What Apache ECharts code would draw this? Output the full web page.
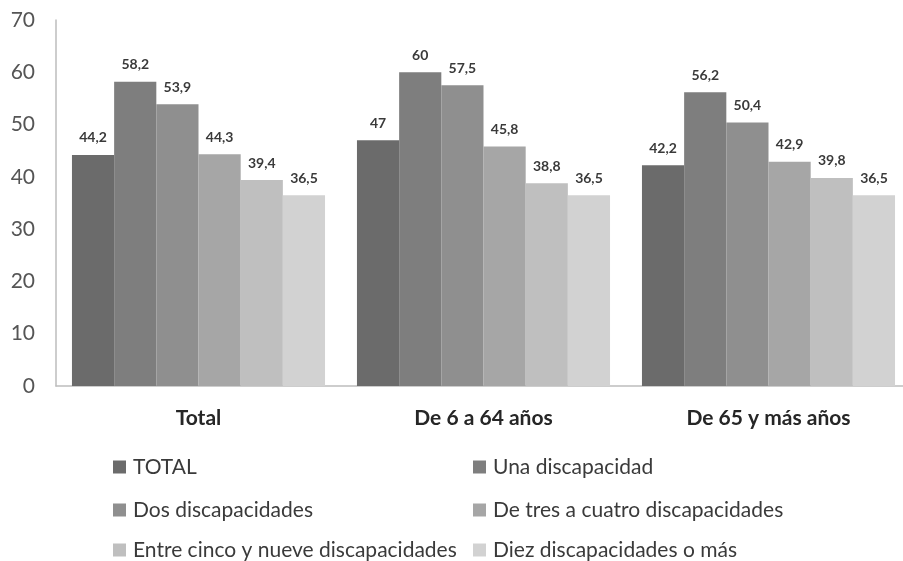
<!DOCTYPE html>
<html>
<head>
<meta charset="utf-8">
<script src="https://cdn.jsdelivr.net/npm/echarts@6/dist/echarts.min.js"></script>
<style>
  html, body { margin: 0; padding: 0; background: #ffffff; }
  #chart { width: 903px; height: 561px; }
</style>
</head>
<body>
<div id="chart"></div>
<script>
// Age groups along the x axis
const categories = ['Total', 'De 6 a 64 años', 'De 65 y más años'];

// Series: number of disabilities
const seriesNames = [
  'TOTAL',
  'Una discapacidad',
  'Dos discapacidades',
  'De tres a cuatro discapacidades',
  'Entre cinco y nueve discapacidades',
  'Diez discapacidades o más'
];
const totalValues = [44.2, 47, 42.2];
const unaValues = [58.2, 60, 56.2];
const dosValues = [53.9, 57.5, 50.4];
const tresCuatroValues = [44.3, 45.8, 42.9];
const cincoNueveValues = [39.4, 38.8, 39.8];
const diezValues = [36.5, 36.5, 36.5];

// Y axis ticks
const yTicks = [0, 10, 20, 30, 40, 50, 60, 70];

const seriesValues = [totalValues, unaValues, dosValues, tresCuatroValues, cincoNueveValues, diezValues];
const colors = ['#6b6b6b', '#7e7e7e', '#8f8f8f', '#a6a6a6', '#bfbfbf', '#d2d2d2'];

const font = 'Lato, "Noto Sans", sans-serif';

// Legend laid out as a two-column grid: one legend block per entry
const legendCols = [113, 473];
const legendRows = [456, 499, 539];
const legends = seriesNames.map((name, i) => ({
  data: [name],
  left: legendCols[i % 2],
  top: legendRows[Math.floor(i / 2)],
  padding: 0,
  itemWidth: 13, itemHeight: 13,
  icon: 'rect',
  textStyle: { fontFamily: font, fontSize: 21, lineHeight: 22, color: '#3a3a3a', padding: [0, 0, 0, 2] }
}));

const chart = echarts.init(document.getElementById('chart'), null, { renderer: 'canvas' });

chart.setOption({
  animation: false,
  backgroundColor: '#ffffff',
  color: colors,
  // plot area runs slightly past the right edge of the canvas
  grid: { left: 56, width: 855, top: 20, bottom: 175, containLabel: false, outerBoundsMode: 'none' },
  legend: legends,
  xAxis: {
    type: 'category',
    data: categories,
    axisLine: { show: true, lineStyle: { color: '#bdbdbd', width: 1.5 } },
    axisTick: { show: false },
    axisLabel: {
      margin: 22,
      fontFamily: font,
      fontWeight: 'bold',
      fontSize: 21,
      color: '#262626'
    }
  },
  yAxis: {
    type: 'value',
    min: yTicks[0],
    max: yTicks[yTicks.length - 1],
    interval: 10,
    axisLine: { show: true, lineStyle: { color: '#bdbdbd', width: 1.5 } },
    axisTick: { show: false },
    splitLine: { show: false },
    axisLabel: {
      margin: 21,
      fontFamily: font,
      fontSize: 21,
      color: '#555'
    }
  },
  series: seriesNames.map((name, i) => ({
    name: name,
    type: 'bar',
    data: seriesValues[i],
    barGap: '0%',
    barCategoryGap: '11.2%',
    itemStyle: { color: colors[i] },
    label: {
      show: true,
      position: 'top',
      distance: 10,
      fontFamily: font,
      fontWeight: 'bold',
      fontSize: 14,
      color: '#3a3a3a',
      formatter: p => String(p.value).replace('.', ',')
    }
  }))
});
</script>
</body>
</html>
